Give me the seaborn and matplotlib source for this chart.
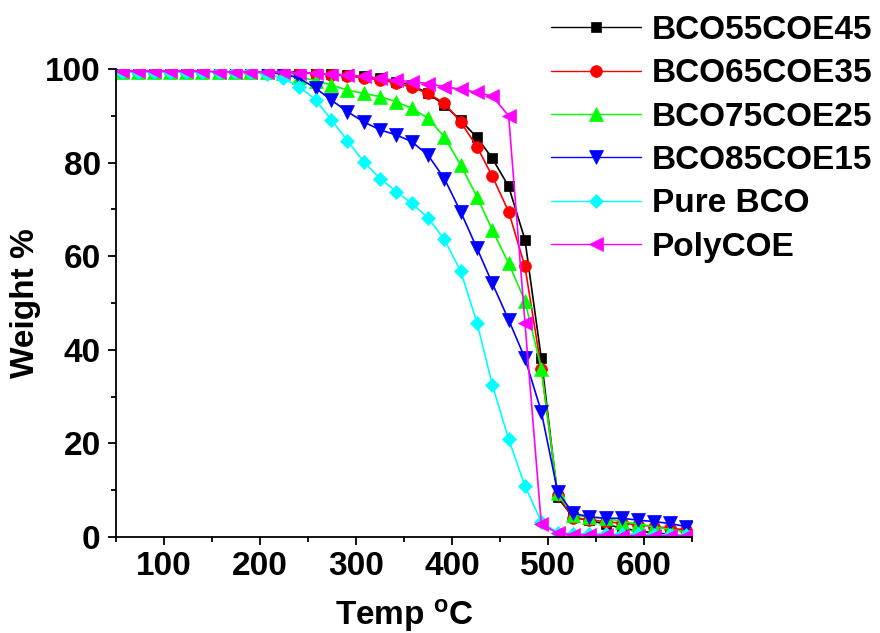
import matplotlib
matplotlib.use("Agg")
import matplotlib.pyplot as plt
import seaborn as sns
import pandas as pd
from matplotlib.ticker import MultipleLocator

# ---------------- data ----------------
temp = [56, 73, 90, 106, 123, 140, 157, 174, 190, 207, 224, 241, 258, 274, 291,
        308, 325, 342, 358, 375, 392, 409, 426, 442, 459, 476, 493, 510, 526,
        543, 560, 577, 594, 610, 627, 644]

bco55coe45 = [99.4, 99.4, 99.4, 99.4, 99.4, 99.4, 99.4, 99.4, 99.4, 99.3, 99.3,
              99.2, 99.1, 98.9, 98.7, 98.4, 98.0, 97.3, 96.6, 94.8, 92.3, 89.0,
              85.4, 80.9, 74.9, 63.5, 38.2, 8.5, 4.2, 3.6, 2.7, 1.9, 1.3, 0.9,
              0.6, 0.2]
bco65coe35 = [99.4, 99.4, 99.4, 99.4, 99.4, 99.4, 99.4, 99.4, 99.4, 99.4, 99.3,
              99.2, 99.0, 98.8, 98.5, 98.1, 97.7, 97.0, 96.1, 94.8, 92.7, 88.7,
              83.4, 77.1, 69.5, 57.8, 36.0, 9.0, 4.1, 3.7, 3.3, 2.9, 2.6, 2.2,
              1.9, 1.5]
bco75coe25 = [99.4, 99.4, 99.4, 99.4, 99.4, 99.4, 99.4, 99.4, 99.4, 99.3, 99.1,
              98.3, 97.5, 96.6, 95.5, 94.8, 94.1, 93.0, 91.6, 89.5, 85.5, 79.5,
              72.7, 65.6, 58.5, 50.4, 36.0, 9.3, 4.7, 4.3, 4.0, 3.3, 2.8, 2.2,
              1.6, 1.1]
bco85coe15 = [99.4, 99.4, 99.4, 99.4, 99.4, 99.4, 99.4, 99.4, 99.4, 99.2, 99.0,
              98.0, 95.9, 93.4, 90.9, 88.7, 87.0, 85.9, 84.5, 81.6, 76.6, 69.5,
              61.7, 54.2, 46.4, 38.2, 26.8, 9.7, 5.1, 4.3, 4.0, 4.0, 3.6, 3.3,
              2.9, 2.2]
pure_bco = [99.3, 99.3, 99.3, 99.3, 99.3, 99.3, 99.3, 99.3, 99.3, 99.0, 98.0,
            96.2, 93.4, 89.2, 84.7, 80.2, 76.6, 73.8, 71.3, 68.2, 63.6, 56.8,
            45.8, 32.5, 20.9, 10.9, 3.3, 0.9, 0.7, 0.7, 0.6, 0.6, 0.6, 0.5,
            0.5, 0.5]
polycoe = [99.6, 99.6, 99.6, 99.6, 99.6, 99.6, 99.4, 99.4, 99.4, 99.4, 99.3,
           99.2, 99.1, 98.9, 98.7, 98.4, 98.0, 97.6, 97.3, 96.9, 96.2, 95.7,
           95.0, 94.2, 90.0, 45.8, 2.8, 0.8, 0.5, 0.4, 0.4, 0.3, 0.3, 0.3,
           0.3, 0.3]

series_names = ["BCO55COE45", "BCO65COE35", "BCO75COE25", "BCO85COE15",
                "Pure BCO", "PolyCOE"]
series_values = [bco55coe45, bco65coe35, bco75coe25, bco85coe15, pure_bco, polycoe]

x_ticks = [100, 200, 300, 400, 500, 600]
y_ticks = [0, 20, 40, 60, 80, 100]

# ---------------- styling ----------------
colors = ["#000000", "#FF0000", "#00FF00", "#0000FF", "#00FFFF", "#FF00FF"]
markers = ["s", "o", "^", "v", "D", "<"]
msizes = [7.5, 8.5, 9.5, 9.5, 7.5, 9.5]

sns.set_theme(style="ticks")
plt.rcParams["font.family"] = ["Liberation Sans", "DejaVu Sans"]
plt.rcParams["font.weight"] = "bold"
plt.rcParams["axes.labelweight"] = "bold"
plt.rcParams["text.color"] = "black"
plt.rcParams["axes.labelcolor"] = "black"
plt.rcParams["xtick.color"] = "black"
plt.rcParams["ytick.color"] = "black"
plt.rcParams["mathtext.fontset"] = "custom"
plt.rcParams["mathtext.rm"] = "Liberation Sans:bold"
plt.rcParams["mathtext.it"] = "Liberation Sans:bold"
plt.rcParams["mathtext.bf"] = "Liberation Sans:bold"

fig = plt.figure(figsize=(8.8, 6.33), dpi=100)
ax = fig.add_axes([116 / 880, 96 / 633, 576 / 880, 468 / 633])

frames = []
for name, vals in zip(series_names, series_values):
    frames.append(pd.DataFrame({"Temp": temp, "Weight": vals, "Sample": name}))
df = pd.concat(frames, ignore_index=True)

for name, c, m, ms in zip(series_names, colors, markers, msizes):
    sub = df[df["Sample"] == name]
    sns.lineplot(data=sub, x="Temp", y="Weight", ax=ax, color=c, marker=m,
                 markersize=ms, markeredgecolor=c, markeredgewidth=0.5,
                 linewidth=1.2, label=name, sort=False, estimator=None)

ax.set_xlim(50, 650)
ax.set_ylim(0, 100)
ax.set_xticks(x_ticks)
ax.set_yticks(y_ticks)
ax.xaxis.set_minor_locator(MultipleLocator(50))
ax.yaxis.set_minor_locator(MultipleLocator(10))

for s in ["top", "right"]:
    ax.spines[s].set_visible(False)
for s in ["left", "bottom"]:
    ax.spines[s].set_linewidth(1.3)
    ax.spines[s].set_color("black")

ax.tick_params(axis="both", which="major", direction="out", length=6, width=1.3,
               labelsize=24, color="black", labelcolor="black")
ax.tick_params(axis="both", which="minor", direction="out", length=3.5, width=1.3,
               color="black")
ax.tick_params(axis="x", which="major", pad=4)
ax.tick_params(axis="y", which="major", pad=5)
for lbl in ax.get_xticklabels() + ax.get_yticklabels():
    lbl.set_fontweight("bold")

ax.set_xlabel(r"Temp $^{\mathrm{o}}$C", fontsize=24, fontweight="bold", color="black")
ax.set_ylabel("Weight %", fontsize=24, fontweight="bold", color="black")
ax.xaxis.set_label_coords(0.5, -0.128)
ax.yaxis.set_label_coords(-0.13, 0.5)

leg = ax.legend(loc="upper left", bbox_to_anchor=(551 / 880, 1 - 15 / 633),
                bbox_transform=fig.transFigure, frameon=False,
                prop={"size": 24, "weight": "bold"}, handlelength=2.7,
                handletextpad=0.33, labelspacing=0.37, borderpad=0,
                borderaxespad=0, numpoints=1)
for t in leg.get_texts():
    t.set_color("black")
for line in leg.get_lines():
    line.set_linewidth(1.0)

fig.savefig("out.png", dpi=100)
